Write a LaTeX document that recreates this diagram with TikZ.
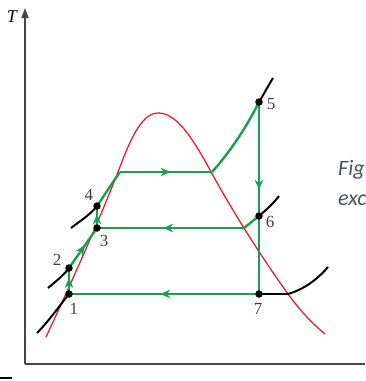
\documentclass[tikz,border=0pt]{standalone}
\usepackage{fontspec}
\setmainfont{Liberation Serif}
\newfontfamily\capfont{Carlito}
\usetikzlibrary{arrows.meta,decorations.markings}
\definecolor{cgreen}{RGB}{24,160,80}
\definecolor{cred}{RGB}{222,35,52}
\definecolor{capc}{RGB}{68,84,106}
\definecolor{axisc}{RGB}{70,70,70}
\begin{document}
\begin{tikzpicture}[x=1pt,y=-1pt,
  cyc/.style={cgreen, line width=2.4pt},
  iso/.style={black, line width=2pt},
  dome/.style={cred, line width=1.3pt},
  dot/.style={circle, fill=black, inner sep=0pt, minimum size=7.5pt},
  num/.style={font=\fontsize{17}{17}\selectfont, text=black!75, inner sep=0pt},
  midarrow/.style={postaction={decorate}, decoration={markings, mark=at position #1 with {\arrow{Stealth[length=10pt,width=8.5pt]}}}},
  midarrow/.default=0.5]
\useasboundingbox (0,0) rectangle (365,381);
\fill[white] (0,0) rectangle (365,381);

% axes
\coordinate (o) at (25,364);
\coordinate (ytop) at (25,8);
\coordinate (xend) at (365,364);
\draw[axisc, line width=1.4pt, -{Triangle[length=10pt,width=7pt]}] (o) -- (ytop);
\draw[axisc, line width=1.4pt] (o) -- (xend);
\node[font=\itshape\fontsize{18}{18}\selectfont, inner sep=0pt] (tlab) at (12,17) {T};
\coordinate (fa) at (0,378);
\coordinate (fb) at (12,378);
\draw[black, line width=1.5pt] (fa) -- (fb);

% state points
\coordinate (p1) at (69,294);
\coordinate (p2) at (69,268);
\coordinate (p3) at (97,228);
\coordinate (p4) at (97,206);
\coordinate (p5) at (259,102);
\coordinate (p6) at (259,216);
\coordinate (p7) at (259,294);
\coordinate (sl) at (120,172);
\coordinate (sv) at (212,172);
\coordinate (c6) at (244,228);
\coordinate (d7) at (288,294);

% saturation dome
\draw[dome] (46,337) .. controls (75,275) and (100,218) .. (118,172)
  .. controls (128,146) and (140,113) .. (158,113)
  .. controls (175,113) and (190,133) .. (210,170)
  .. controls (235,216) and (265,262) .. (288,294)
  .. controls (302,313) and (313,324) .. (325,334);

% isobars (black)
\coordinate (i1) at (37,333);
\coordinate (i2) at (48,288);
\coordinate (i4) at (71,228);
\coordinate (i5) at (273,78);
\coordinate (i6) at (279,196);
\coordinate (i7) at (328,267);
\draw[iso] (i1) .. controls (49,321) and (60,305) .. (p1);
\draw[iso] (i2) .. controls (55,282) and (63,276) .. (p2);
\draw[iso] (i4) .. controls (80,221) and (90,215) .. (p4);
\draw[iso] (p5) .. controls (264,94) and (268,86) .. (i5);
\draw[iso] (p6) .. controls (266,210) and (273,204) .. (i6);
\draw[iso] (p7) -- (d7);
\draw[iso] (d7) .. controls (302,290) and (316,281) .. (i7);

% cycle (green)
\draw[cyc, midarrow=0.62] (p1) -- (p2);
\draw[cyc, midarrow=0.57] (p2) -- (p3);
\draw[cyc, midarrow=0.62] (p3) -- (p4);
\draw[cyc] (p4) .. controls (104,196) and (112,183) .. (sl);
\draw[cyc, midarrow=0.55] (sl) -- (sv);
\draw[cyc] (sv) .. controls (230,152) and (246,128) .. (p5);
\draw[cyc, midarrow=0.77] (p5) -- (p6);
\draw[cyc] (p6) -- (c6);
\draw[cyc, midarrow=0.55] (c6) -- (p3);
\draw[cyc] (p6) -- (p7);
\draw[cyc, midarrow=0.52] (p7) -- (p1);

% dots
\foreach \p in {1,...,7} \node[dot] (d\p) at (p\p) {};

% labels
\node[num] (l1) at (74,309) {1};
\node[num] (l2) at (57,260) {2};
\node[num] (l3) at (104,241) {3};
\node[num] (l4) at (89,195) {4};
\node[num] (l5) at (271,104) {5};
\node[num] (l6) at (270,222) {6};
\node[num] (l7) at (258,309) {7};

% cut-off caption
\begin{scope}
\clip (0,0) rectangle (365,381);
\node[anchor=base west, inner sep=0pt, text=capc, font=\capfont\itshape\fontsize{22}{22}\selectfont] (fig) at (338,175) {Fig};
\node[anchor=base west, inner sep=0pt, text=capc, font=\capfont\itshape\fontsize{22}{22}\selectfont] (exc) at (338,205) {exc};
\end{scope}
\end{tikzpicture}
\end{document}
